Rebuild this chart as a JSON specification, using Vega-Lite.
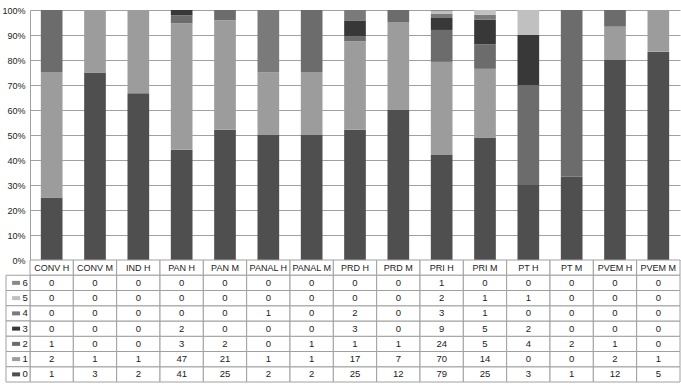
{
  "$schema": "https://vega.github.io/schema/vega-lite/v6.json",
  "padding": {"left": 1, "top": 6, "right": 2, "bottom": 2},
  "config": {"view": {"stroke": null}, "font": "Liberation Sans"},
  "datasets": {
    "cats": [
      {"c": "CONV H"}, {"c": "CONV M"}, {"c": "IND H"}, {"c": "PAN H"}, {"c": "PAN M"},
      {"c": "PANAL H"}, {"c": "PANAL M"}, {"c": "PRD H"}, {"c": "PRD M"}, {"c": "PRI H"},
      {"c": "PRI M"}, {"c": "PT H"}, {"c": "PT M"}, {"c": "PVEM H"}, {"c": "PVEM M"}
    ],
    "ser": [{"s": "6"}, {"s": "5"}, {"s": "4"}, {"s": "3"}, {"s": "2"}, {"s": "1"}, {"s": "0"}],
    "vals": [
      {"c": "CONV H", "s": "0", "n": 1}, {"c": "CONV M", "s": "0", "n": 3}, {"c": "IND H", "s": "0", "n": 2}, {"c": "PAN H", "s": "0", "n": 41}, {"c": "PAN M", "s": "0", "n": 25},
      {"c": "PANAL H", "s": "0", "n": 2}, {"c": "PANAL M", "s": "0", "n": 2}, {"c": "PRD H", "s": "0", "n": 25}, {"c": "PRD M", "s": "0", "n": 12}, {"c": "PRI H", "s": "0", "n": 79},
      {"c": "PRI M", "s": "0", "n": 25}, {"c": "PT H", "s": "0", "n": 3}, {"c": "PT M", "s": "0", "n": 1}, {"c": "PVEM H", "s": "0", "n": 12}, {"c": "PVEM M", "s": "0", "n": 5},

      {"c": "CONV H", "s": "1", "n": 2}, {"c": "CONV M", "s": "1", "n": 1}, {"c": "IND H", "s": "1", "n": 1}, {"c": "PAN H", "s": "1", "n": 47}, {"c": "PAN M", "s": "1", "n": 21},
      {"c": "PANAL H", "s": "1", "n": 1}, {"c": "PANAL M", "s": "1", "n": 1}, {"c": "PRD H", "s": "1", "n": 17}, {"c": "PRD M", "s": "1", "n": 7}, {"c": "PRI H", "s": "1", "n": 70},
      {"c": "PRI M", "s": "1", "n": 14}, {"c": "PT H", "s": "1", "n": 0}, {"c": "PT M", "s": "1", "n": 0}, {"c": "PVEM H", "s": "1", "n": 2}, {"c": "PVEM M", "s": "1", "n": 1},

      {"c": "CONV H", "s": "2", "n": 1}, {"c": "CONV M", "s": "2", "n": 0}, {"c": "IND H", "s": "2", "n": 0}, {"c": "PAN H", "s": "2", "n": 3}, {"c": "PAN M", "s": "2", "n": 2},
      {"c": "PANAL H", "s": "2", "n": 0}, {"c": "PANAL M", "s": "2", "n": 1}, {"c": "PRD H", "s": "2", "n": 1}, {"c": "PRD M", "s": "2", "n": 1}, {"c": "PRI H", "s": "2", "n": 24},
      {"c": "PRI M", "s": "2", "n": 5}, {"c": "PT H", "s": "2", "n": 4}, {"c": "PT M", "s": "2", "n": 2}, {"c": "PVEM H", "s": "2", "n": 1}, {"c": "PVEM M", "s": "2", "n": 0},

      {"c": "CONV H", "s": "3", "n": 0}, {"c": "CONV M", "s": "3", "n": 0}, {"c": "IND H", "s": "3", "n": 0}, {"c": "PAN H", "s": "3", "n": 2}, {"c": "PAN M", "s": "3", "n": 0},
      {"c": "PANAL H", "s": "3", "n": 0}, {"c": "PANAL M", "s": "3", "n": 0}, {"c": "PRD H", "s": "3", "n": 3}, {"c": "PRD M", "s": "3", "n": 0}, {"c": "PRI H", "s": "3", "n": 9},
      {"c": "PRI M", "s": "3", "n": 5}, {"c": "PT H", "s": "3", "n": 2}, {"c": "PT M", "s": "3", "n": 0}, {"c": "PVEM H", "s": "3", "n": 0}, {"c": "PVEM M", "s": "3", "n": 0},

      {"c": "CONV H", "s": "4", "n": 0}, {"c": "CONV M", "s": "4", "n": 0}, {"c": "IND H", "s": "4", "n": 0}, {"c": "PAN H", "s": "4", "n": 0}, {"c": "PAN M", "s": "4", "n": 0},
      {"c": "PANAL H", "s": "4", "n": 1}, {"c": "PANAL M", "s": "4", "n": 0}, {"c": "PRD H", "s": "4", "n": 2}, {"c": "PRD M", "s": "4", "n": 0}, {"c": "PRI H", "s": "4", "n": 3},
      {"c": "PRI M", "s": "4", "n": 1}, {"c": "PT H", "s": "4", "n": 0}, {"c": "PT M", "s": "4", "n": 0}, {"c": "PVEM H", "s": "4", "n": 0}, {"c": "PVEM M", "s": "4", "n": 0},

      {"c": "CONV H", "s": "5", "n": 0}, {"c": "CONV M", "s": "5", "n": 0}, {"c": "IND H", "s": "5", "n": 0}, {"c": "PAN H", "s": "5", "n": 0}, {"c": "PAN M", "s": "5", "n": 0},
      {"c": "PANAL H", "s": "5", "n": 0}, {"c": "PANAL M", "s": "5", "n": 0}, {"c": "PRD H", "s": "5", "n": 0}, {"c": "PRD M", "s": "5", "n": 0}, {"c": "PRI H", "s": "5", "n": 2},
      {"c": "PRI M", "s": "5", "n": 1}, {"c": "PT H", "s": "5", "n": 1}, {"c": "PT M", "s": "5", "n": 0}, {"c": "PVEM H", "s": "5", "n": 0}, {"c": "PVEM M", "s": "5", "n": 0},

      {"c": "CONV H", "s": "6", "n": 0}, {"c": "CONV M", "s": "6", "n": 0}, {"c": "IND H", "s": "6", "n": 0}, {"c": "PAN H", "s": "6", "n": 0}, {"c": "PAN M", "s": "6", "n": 0},
      {"c": "PANAL H", "s": "6", "n": 0}, {"c": "PANAL M", "s": "6", "n": 0}, {"c": "PRD H", "s": "6", "n": 0}, {"c": "PRD M", "s": "6", "n": 0}, {"c": "PRI H", "s": "6", "n": 1},
      {"c": "PRI M", "s": "6", "n": 0}, {"c": "PT H", "s": "6", "n": 0}, {"c": "PT M", "s": "6", "n": 0}, {"c": "PVEM H", "s": "6", "n": 0}, {"c": "PVEM M", "s": "6", "n": 0}
    ]
  },
  "vconcat": [
    {
      "width": 650,
      "height": 250,
      "data": {"name": "vals"},
      "mark": {"type": "bar"},
      "encoding": {
        "x": {"field": "c", "type": "nominal", "sort": null,
              "scale": {"domain": ["CONV H","CONV M","IND H","PAN H","PAN M","PANAL H","PANAL M","PRD H","PRD M","PRI H","PRI M","PT H","PT M","PVEM H","PVEM M"], "paddingInner": 0.5, "paddingOuter": 0.25},
              "axis": null},
        "y": {"field": "n", "type": "quantitative", "stack": "normalize",
              "axis": {"title": null, "format": ".0%", "values": [0,0.1,0.2,0.3,0.4,0.5,0.6,0.7,0.8,0.9,1],
                       "grid": true, "gridColor": "#a0a0a0", "domainColor": "#a0a0a0", "ticks": false,
                       "labelPadding": 5, "labelFontSize": 9, "labelColor": "#222222", "labelFont": "Liberation Sans"}},
        "color": {"field": "s", "type": "nominal",
                  "scale": {"domain": ["0","1","2","3","4","5","6"], "range": ["#4f4f4f","#9c9c9c","#6c6c6c","#383838","#7a7a7a","#c0c0c0","#8a8a8a"]},
                  "legend": null},
        "order": {"field": "s", "type": "ordinal", "sort": "ascending"}
      }
    },
    {
      "width": 650,
      "height": 122,
      "resolve": {"scale": {"x": "independent"}},
      "layer": [
        {
          "data": {"name": "cats"},
          "mark": {"type": "rect", "fill": "white", "stroke": "#a0a0a0", "strokeWidth": 1},
          "encoding": {
            "x": {"field": "c", "type": "nominal", "sort": null, "scale": {"domain": ["CONV H","CONV M","IND H","PAN H","PAN M","PANAL H","PANAL M","PRD H","PRD M","PRI H","PRI M","PT H","PT M","PVEM H","PVEM M"], "paddingInner": 0, "paddingOuter": 0}, "axis": null},
            "y": {"datum": "h", "type": "nominal", "scale": {"domain": ["h","6","5","4","3","2","1","0"], "paddingInner": 0, "paddingOuter": 0}, "axis": null}
          }
        },
        {
          "data": {"name": "vals"},
          "mark": {"type": "rect", "fill": "white", "stroke": "#a0a0a0", "strokeWidth": 1},
          "encoding": {
            "x": {"field": "c", "type": "nominal", "sort": null, "scale": {"domain": ["CONV H","CONV M","IND H","PAN H","PAN M","PANAL H","PANAL M","PRD H","PRD M","PRI H","PRI M","PT H","PT M","PVEM H","PVEM M"], "paddingInner": 0, "paddingOuter": 0}, "axis": null},
            "y": {"field": "s", "type": "nominal", "scale": {"domain": ["h","6","5","4","3","2","1","0"], "paddingInner": 0, "paddingOuter": 0}, "axis": null}
          }
        },
        {
          "data": {"name": "cats"},
          "mark": {"type": "text", "fontSize": 9, "color": "#222222", "font": "Liberation Sans"},
          "encoding": {
            "x": {"field": "c", "type": "nominal", "sort": null, "scale": {"domain": ["CONV H","CONV M","IND H","PAN H","PAN M","PANAL H","PANAL M","PRD H","PRD M","PRI H","PRI M","PT H","PT M","PVEM H","PVEM M"], "paddingInner": 0, "paddingOuter": 0}, "axis": null},
            "y": {"datum": "h", "type": "nominal", "scale": {"domain": ["h","6","5","4","3","2","1","0"], "paddingInner": 0, "paddingOuter": 0}, "axis": null},
            "text": {"field": "c"}
          }
        },
        {
          "data": {"name": "vals"},
          "mark": {"type": "text", "fontSize": 9.5, "color": "#222222", "font": "Liberation Sans"},
          "encoding": {
            "x": {"field": "c", "type": "nominal", "sort": null, "scale": {"domain": ["CONV H","CONV M","IND H","PAN H","PAN M","PANAL H","PANAL M","PRD H","PRD M","PRI H","PRI M","PT H","PT M","PVEM H","PVEM M"], "paddingInner": 0, "paddingOuter": 0}, "axis": null},
            "y": {"field": "s", "type": "nominal", "scale": {"domain": ["h","6","5","4","3","2","1","0"], "paddingInner": 0, "paddingOuter": 0}, "axis": null},
            "text": {"field": "n"}
          }
        },
        {
          "data": {"name": "ser"},
          "mark": {"type": "rect", "fill": "white", "stroke": "#a0a0a0", "strokeWidth": 1, "clip": false},
          "encoding": {
            "x": {"datum": 0, "type": "quantitative", "scale": {"domain": [0, 1], "range": [-24, 0]}, "axis": null},
            "x2": {"datum": 1},
            "y": {"field": "s", "type": "nominal", "scale": {"domain": ["h","6","5","4","3","2","1","0"], "paddingInner": 0, "paddingOuter": 0}, "axis": null}
          }
        },
        {
          "data": {"name": "ser"},
          "mark": {"type": "point", "filled": true, "opacity": 1, "size": 64, "shape": "M-1,-0.5L1,-0.5L1,0.5L-1,0.5Z", "clip": false},
          "encoding": {
            "x": {"datum": 0.42, "type": "quantitative", "scale": {"domain": [0, 1], "range": [-24, 0]}, "axis": null},
            "y": {"field": "s", "type": "nominal", "scale": {"domain": ["h","6","5","4","3","2","1","0"], "paddingInner": 0, "paddingOuter": 0}, "axis": null},
            "color": {"field": "s", "type": "nominal",
                      "scale": {"domain": ["0","1","2","3","4","5","6"], "range": ["#4f4f4f","#9c9c9c","#6c6c6c","#383838","#7a7a7a","#c0c0c0","#8a8a8a"]},
                      "legend": null}
          }
        },
        {
          "data": {"name": "ser"},
          "mark": {"type": "text", "fontSize": 9.5, "color": "#222222", "font": "Liberation Sans", "clip": false},
          "encoding": {
            "x": {"datum": 0.8, "type": "quantitative", "scale": {"domain": [0, 1], "range": [-24, 0]}, "axis": null},
            "y": {"field": "s", "type": "nominal", "scale": {"domain": ["h","6","5","4","3","2","1","0"], "paddingInner": 0, "paddingOuter": 0}, "axis": null},
            "text": {"field": "s"}
          }
        }
      ]
    }
  ],
  "spacing": 0,
  "bounds": "flush"
}
